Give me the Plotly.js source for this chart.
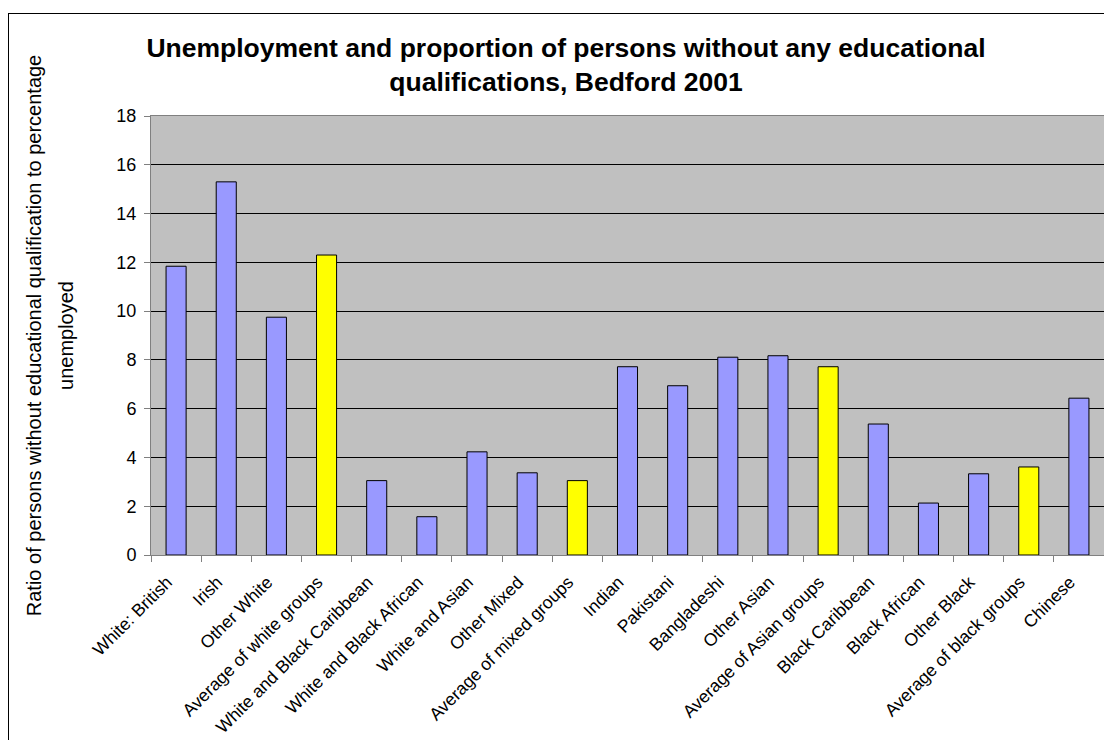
<!DOCTYPE html>
<html>
<head>
<meta charset="utf-8">
<script src="https://cdn.plot.ly/plotly-3.0.1.min.js"></script>
<style>
  html, body { margin: 0; padding: 0; background: #fff; overflow: hidden; }
  #wrap { position: relative; width: 1104px; height: 740px; }
  #chart { position: absolute; left: 0; top: 0; width: 1104px; height: 740px; }
  #frame { position: absolute; left: 8px; top: 13px; width: 1200px; height: 900px;
           border: 1px solid #000; pointer-events: none; box-sizing: border-box; }
</style>
</head>
<body>
<div id="wrap">
  <div id="chart"></div>
  <div id="frame"></div>
</div>
<script>
const categories = [
  "White: British", "Irish", "Other White", "Average of white groups",
  "White and Black Caribbean", "White and Black African", "White and Asian",
  "Other Mixed", "Average of mixed groups", "Indian", "Pakistani",
  "Bangladeshi", "Other Asian", "Average of Asian groups", "Black Caribbean",
  "Black African", "Other Black", "Average of black groups", "Chinese"
];
const ratios = [
  11.84, 15.3, 9.75, 12.3,
  3.05, 1.57, 4.23,
  3.37, 3.05, 7.72, 6.94,
  8.11, 8.17, 7.72, 5.37,
  2.13, 3.33, 3.61, 6.43
];
const yTicks = [0, 2, 4, 6, 8, 10, 12, 14, 16, 18];

const groupColor = "#9999FF";
const averageColor = "#FFFF00";
const barColors = categories.map(c => c.startsWith("Average") ? averageColor : groupColor);

const font = "Liberation Sans, Arial, Helvetica, sans-serif";

const trace = {
  type: "bar",
  x: categories,
  y: ratios,
  marker: { color: barColors, line: { color: "#000000", width: 1 } },
  hoverinfo: "x+y"
};

const layout = {
  width: 1104,
  height: 740,
  margin: { l: 151, r: 0, t: 116, b: 185, pad: 0 },
  paper_bgcolor: "rgba(0,0,0,0)",
  plot_bgcolor: "#C0C0C0",
  bargap: 0.6,
  showlegend: false,
  font: { family: font, color: "#000" },
  title: {
    text: "Unemployment and proportion of persons without any educational<br>qualifications, Bedford 2001",
    font: { family: font, size: 26.5, color: "#000", weight: "bold" },
    xref: "container", x: 566 / 1104, xanchor: "center",
    yref: "container", y: 1 - 57 / 740, yanchor: "top"
  },
  xaxis: {
    type: "category",
    tickangle: -45,
    tickson: "boundaries",
    ticks: "outside",
    ticklen: 6,
    tickcolor: "#808080",
    ticklabelshift: -9,
    ticklabelstandoff: 9,
    tickfont: { family: font, size: 17.6, color: "#000" },
    showline: true, linecolor: "#808080", linewidth: 1, mirror: true,
    showgrid: false,
    automargin: false
  },
  yaxis: {
    range: [0, 18],
    tickvals: yTicks,
    ticktext: yTicks.map(String),
    ticks: "outside",
    ticklen: 6,
    tickcolor: "#808080",
    ticklabelstandoff: 4,
    tickfont: { family: font, size: 18, color: "#000" },
    showline: true, linecolor: "#808080", linewidth: 1, mirror: true,
    showgrid: true, gridcolor: "#000000", gridwidth: 1,
    zeroline: false,
    automargin: false,
    title: {
      text: "<span style=\"font-size:20px\">Ratio of persons without educational qualification to percentage</span><br><span style=\"font-size:20px\">unemployed</span>",
      font: { family: font, size: 25, color: "#000" },
      standoff: 35
    }
  }
};

Plotly.newPlot("chart", [trace], layout, { displayModeBar: false, staticPlot: true });
</script>
</body>
</html>
